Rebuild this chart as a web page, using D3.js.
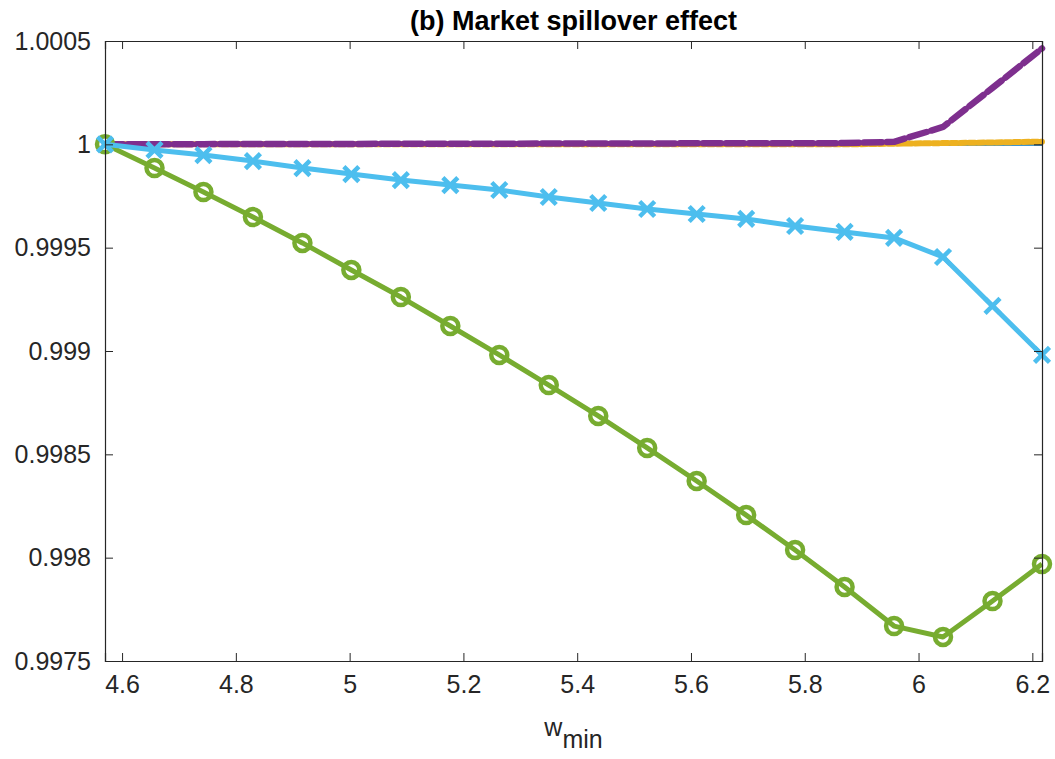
<!DOCTYPE html>
<html lang="en">
<head>
<meta charset="UTF-8">
<title>Market spillover effect</title>
<style>
  body { margin: 0; background: #fff; }
  text { font-family: "Liberation Sans", Arial, sans-serif; }
</style>
</head>
<body>
<script src="https://d3js.org/d3.v7.min.js"></script>
<script>
// w_min values (20 points)
const wmin = [4.570, 4.657, 4.743, 4.830, 4.917, 5.003, 5.090, 5.177, 5.263, 5.350,
              5.437, 5.523, 5.610, 5.697, 5.783, 5.870, 5.957, 6.043, 6.130, 6.217];

const blueSolid = [1, 1, 1, 1, 1, 1, 1, 1, 1, 1, 1, 1, 1, 1, 1, 1, 1, 1, 1, 1];
const redDashDot = [1, 1, 1, 1, 1, 1, 1, 1, 1, 1, 1, 1, 1, 1, 1, 1, 1.000002, 1.000005, 1.000008, 1.000011];
const yellowDotted = [1, 1, 1, 1, 1, 1, 1, 1, 1, 1, 1, 1, 1, 1, 1, 1, 1.000003, 1.000006, 1.000009, 1.000013];
const purpleDashed = [1, 1.000001, 1.000001, 1.000002, 1.000002, 1.000002, 1.000003, 1.000003, 1.000003, 1.000004,
                      1.000004, 1.000004, 1.000005, 1.000005, 1.000005, 1.000006, 1.000012, 1.000084, 1.000273, 1.000464];
const greenCircles = [1, 0.999885, 0.999769, 0.999648, 0.999523, 0.999392, 0.999261, 0.999121, 0.998981, 0.998835,
                      0.998686, 0.998531, 0.998371, 0.998206, 0.998037, 0.997858, 0.997669, 0.997616, 0.997790, 0.997969];
const cyanCrosses = [1, 0.999973, 0.999948, 0.999919, 0.999885, 0.999856, 0.999827, 0.999803, 0.999779, 0.999745,
                     0.999716, 0.999687, 0.999663, 0.999639, 0.999605, 0.999576, 0.999547, 0.999455, 0.999218, 0.998981];

const xTicks = [4.6, 4.8, 5, 5.2, 5.4, 5.6, 5.8, 6, 6.2];
const yTicks = [0.9975, 0.998, 0.9985, 0.999, 0.9995, 1, 1.0005];

const W = 1055, H = 759;
const m = { left: 105, right: 13, top: 41, bottom: 98 };
const iw = W - m.left - m.right, ih = H - m.top - m.bottom;

const svg = d3.select("body").append("svg")
  .attr("width", W).attr("height", H);

const x = d3.scaleLinear().domain([4.570, 6.217]).range([0, iw]);
const y = d3.scaleLinear().domain([0.9975, 1.0005]).range([ih, 0]);

const g = svg.append("g").attr("transform", `translate(${m.left},${m.top})`);

const line = d3.line().x((d, i) => x(wmin[i])).y(d => y(d));

const series = [
  { v: blueSolid, color: "#0072BD", w: 3, dash: null },
  { v: redDashDot, color: "#D95319", w: 4, dash: "10,4,2,4" },
  { v: yellowDotted, color: "#EDB120", w: 6, dash: "6,3" },
  { v: purpleDashed, color: "#7E2F8E", w: 6.5, dash: "18,5" },
  { v: greenCircles, color: "#77AC30", w: 5, dash: null, marker: "o" },
  { v: cyanCrosses, color: "#4DBEEE", w: 5, dash: null, marker: "x" }
];

const plot = g.append("g");

series.forEach(s => {
  plot.append("path")
    .datum(s.v)
    .attr("d", line)
    .attr("fill", "none")
    .attr("stroke", s.color)
    .attr("stroke-width", s.w)
    .attr("stroke-linejoin", "round")
    .attr("stroke-linecap", s.dash ? "round" : "butt")
    .attr("stroke-dasharray", s.dash);

  if (s.marker === "o") {
    plot.selectAll(null).data(s.v).enter().append("circle")
      .attr("cx", (d, i) => x(wmin[i]))
      .attr("cy", d => y(d))
      .attr("r", 8)
      .attr("fill", "none")
      .attr("stroke", s.color)
      .attr("stroke-width", 4.5);
  }
  if (s.marker === "x") {
    const k = 7.5;
    plot.selectAll(null).data(s.v).enter().append("path")
      .attr("d", (d, i) => {
        const cx = x(wmin[i]), cy = y(d);
        return `M${cx - k},${cy - k}L${cx + k},${cy + k}M${cx - k},${cy + k}L${cx + k},${cy - k}`;
      })
      .attr("stroke", s.color)
      .attr("stroke-width", 4.5);
  }
});

// axes box with inward ticks (MATLAB style)
const axColor = "#262626";
const tickLen = 8;

const xb = g.append("g").attr("transform", `translate(0,${ih})`)
  .call(d3.axisBottom(x).tickValues(xTicks).tickSize(-tickLen).tickPadding(14).tickFormat(d3.format("~g")));
const xt = g.append("g")
  .call(d3.axisTop(x).tickValues(xTicks).tickSize(-tickLen).tickFormat(""));
const yl = g.append("g")
  .call(d3.axisLeft(y).tickValues(yTicks).tickSize(-tickLen).tickPadding(14).tickFormat(d3.format("~g")));
const yr = g.append("g").attr("transform", `translate(${iw},0)`)
  .call(d3.axisRight(y).tickValues(yTicks).tickSize(-tickLen).tickFormat(""));

[xb, xt, yl, yr].forEach(a => {
  a.select(".domain").attr("stroke", axColor).attr("stroke-width", 1.2);
  a.selectAll(".tick line").attr("stroke", axColor).attr("stroke-width", 1);
  a.selectAll(".tick text")
    .attr("fill", axColor)
    .style("font-size", "25px")
    .style("font-family", "'Liberation Sans', Arial, sans-serif");
});
xb.selectAll(".tick text").attr("dy", "0.71em");

// title
svg.append("text")
  .attr("x", m.left + iw / 2)
  .attr("y", 30)
  .attr("text-anchor", "middle")
  .style("font-size", "27px")
  .style("font-weight", "bold")
  .attr("fill", "#000")
  .text("(b) Market spillover effect");

// x label: w_min
const xl = svg.append("text")
  .attr("x", m.left + iw / 2)
  .attr("y", 736)
  .attr("text-anchor", "middle")
  .attr("fill", axColor)
  .style("font-size", "25px");
xl.append("tspan").text("w");
xl.append("tspan").attr("dy", 12).text("min");
</script>
</body>
</html>
